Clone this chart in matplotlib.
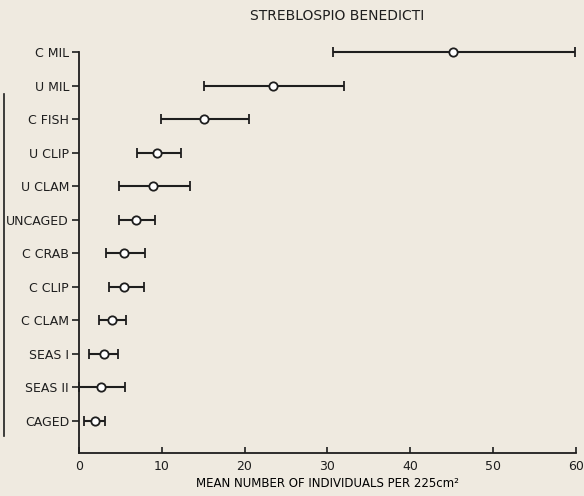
import matplotlib.pyplot as plt
import numpy as np

# Streblospio benedicti - mean and range per treatment
treatments = ['C MIL', 'U MIL', 'C FISH', 'U CLIP', 'U CLAM', 'UNCAGED',
              'C CRAB', 'C CLIP', 'C CLAM', 'SEAS I', 'SEAS II', 'CAGED']
mean  = [45.2, 23.5, 15.1, 9.4, 8.9, 6.9, 5.4, 5.4, 4.0, 3.0, 2.7, 1.9]
lower = [30.7, 15.1,  9.9, 7.0, 4.8, 4.8, 3.3, 3.7, 2.4, 1.2, 0.0, 0.6]
upper = [59.9, 32.0, 20.6, 12.3, 13.4, 9.2, 8.0, 7.85, 5.7, 4.7, 5.6, 3.1]

BG  = '#EFEAE0'
INK = '#1E1E1E'

plt.rcParams.update({
    'font.family': 'DejaVu Sans',
    'font.size': 9,
    'text.color': INK,
    'axes.edgecolor': INK,
    'xtick.color': INK,
    'ytick.color': INK,
})

mean  = np.array(mean)
lower = np.array(lower)
upper = np.array(upper)
pos   = np.arange(len(treatments))[::-1]   # C MIL on top

fig = plt.figure(figsize=(5.84, 4.96), dpi=100)
fig.patch.set_facecolor(BG)
ax = fig.add_axes([0.135, 0.087, 0.851, 0.808])
ax.set_facecolor(BG)

ax.errorbar(mean, pos, xerr=[mean - lower, upper - mean], fmt='o',
            color=INK, ecolor=INK, elinewidth=1.5, capsize=3.5, capthick=1.5,
            markersize=6, markerfacecolor='white', markeredgecolor=INK,
            markeredgewidth=1.3, zorder=3, clip_on=False)

ax.set_xlim(0, 60)
ax.set_ylim(-0.955, len(treatments) - 1)
ax.set_xticks([0, 10, 20, 30, 40, 50, 60])
ax.set_yticks(pos)
ax.set_yticklabels(treatments)
ax.tick_params(axis='y', direction='out', length=5, width=1.2, pad=2)
ax.tick_params(axis='x', direction='in', length=4, width=1.2, pad=5)
for s in ['top', 'right']:
    ax.spines[s].set_visible(False)
for s in ['left', 'bottom']:
    ax.spines[s].set_linewidth(1.3)

ax.set_xlabel('MEAN NUMBER OF INDIVIDUALS PER 225cm²', fontsize=8.5, labelpad=3)
fig.text(0.577, 0.968, 'STREBLOSPIO BENEDICTI', ha='center', va='center',
         fontsize=10)

# binding edge of the scanned page
fig.add_artist(plt.Line2D([0.006, 0.006], [0.12, 0.81], color=INK,
                          linewidth=1.2, transform=fig.transFigure))

fig.savefig('out.png', dpi=100, facecolor=fig.get_facecolor())
